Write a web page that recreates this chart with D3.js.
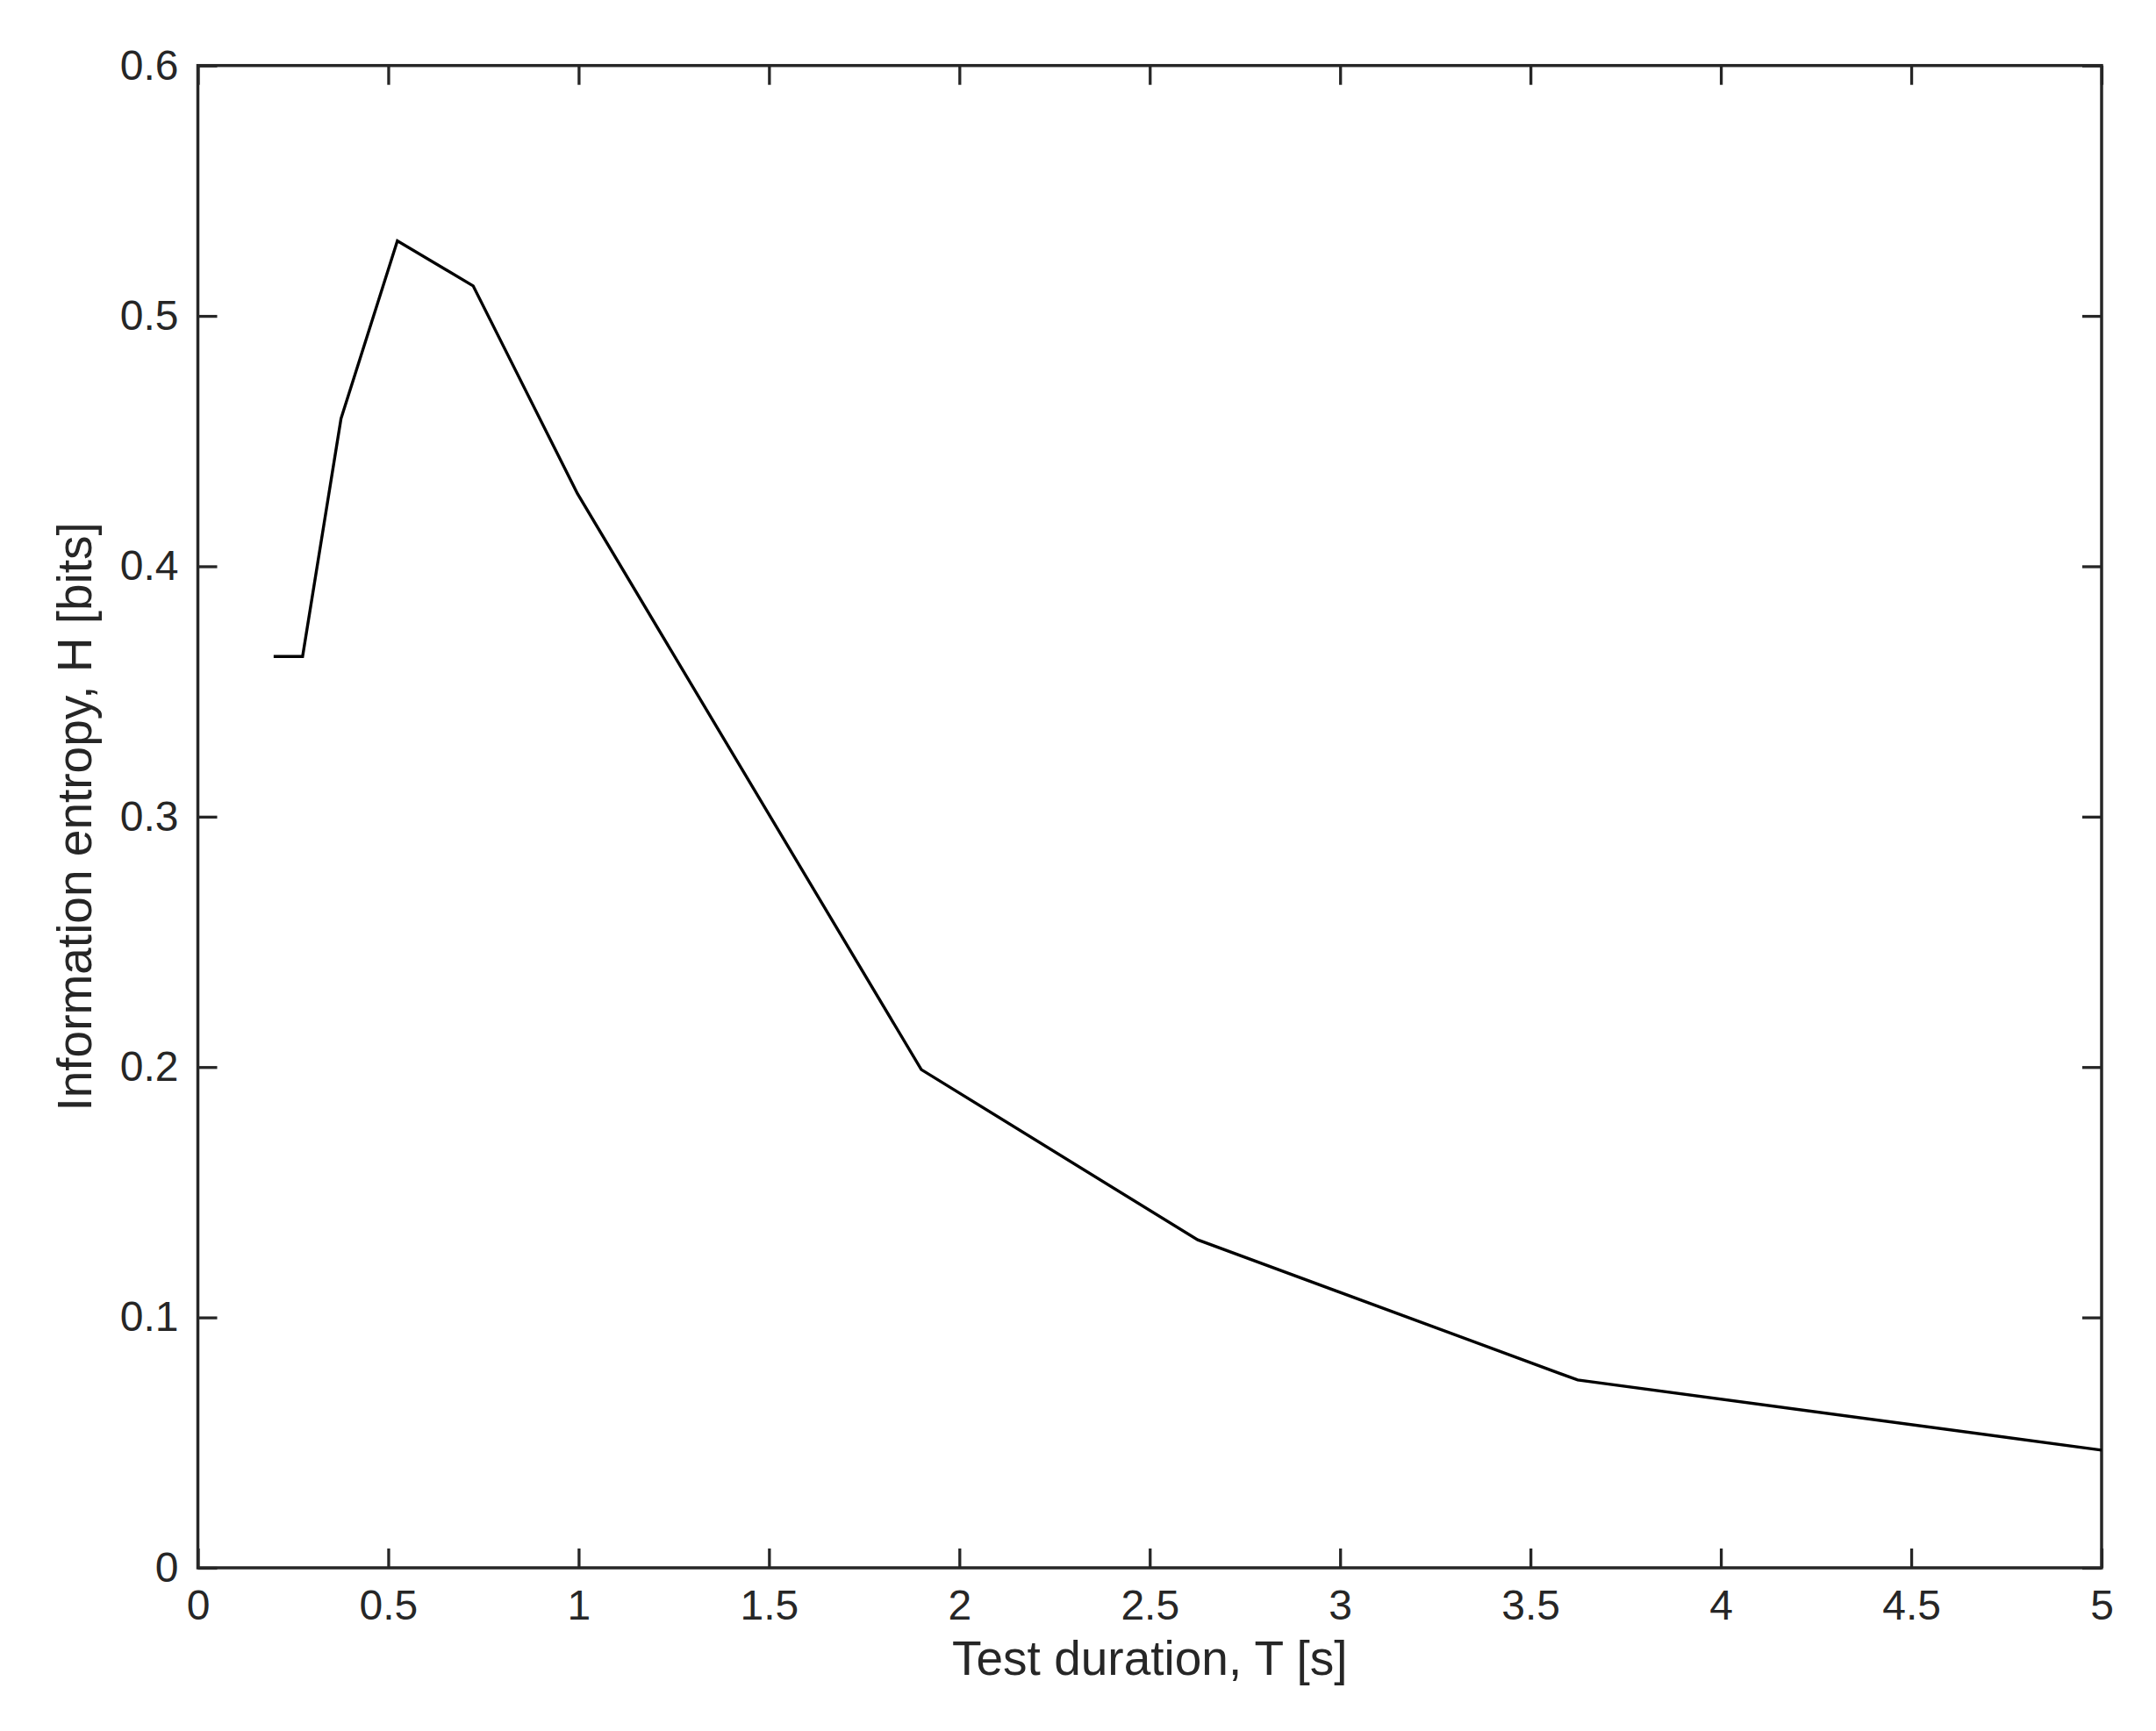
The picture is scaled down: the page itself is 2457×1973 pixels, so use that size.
<!DOCTYPE html>
<html>
<head>
<meta charset="utf-8">
<script src="https://cdn.jsdelivr.net/npm/d3@7"></script>
<style>
  html, body { margin: 0; padding: 0; background: #ffffff; }
  svg { display: block; }
</style>
</head>
<body>
<script>
// ---- data ----
const durationT = [0.199, 0.275, 0.376, 0.524, 0.723, 0.997, 1.900, 2.626, 3.624, 5.0];
const entropyH  = [0.364, 0.364, 0.459, 0.530, 0.512, 0.429, 0.199, 0.131, 0.075, 0.047];
const xTicks = [0, 0.5, 1, 1.5, 2, 2.5, 3, 3.5, 4, 4.5, 5];
const yTicks = [0, 0.1, 0.2, 0.3, 0.4, 0.5, 0.6];
const xLabel = "Test duration, T [s]";
const yLabel = "Information entropy, H [bits]";

(function () {
  // ---- layout ----
  const W = 2457, H = 1973;
  const mLeft = 225.5, mRight = 2395, mTop = 74.7, mBottom = 1787;
  const axisColor = "#262626";
  const font = "'Liberation Sans', Arial, Helvetica, sans-serif";

  const svg = d3.select("body").append("svg")
    .attr("width", W).attr("height", H)
    .attr("viewBox", `0 0 ${W} ${H}`);

  const x = d3.scaleLinear().domain([0, 5]).range([mLeft, mRight]);
  const y = d3.scaleLinear().domain([0, 0.6]).range([mBottom, mTop]);

  const fmt = d => d3.format("~g")(d);

  function styleAxis(g) {
    g.select(".domain").remove();
    g.selectAll(".tick line").attr("stroke", axisColor).attr("stroke-width", 3.3);
    g.selectAll(".tick text").attr("fill", axisColor)
      .style("font-family", font).style("font-size", "48px");
  }

  svg.append("g").attr("transform", `translate(0,${mBottom})`)
    .call(d3.axisBottom(x).tickValues(xTicks).tickFormat(fmt).tickSize(-22).tickSizeOuter(0).tickPadding(25))
    .call(styleAxis);
  svg.append("g").attr("transform", `translate(0,${mTop})`)
    .call(d3.axisTop(x).tickValues(xTicks).tickFormat("").tickSize(-22).tickSizeOuter(0))
    .call(styleAxis);
  svg.append("g").attr("transform", `translate(${mLeft},0)`)
    .call(d3.axisLeft(y).tickValues(yTicks).tickFormat(fmt).tickSize(-22).tickSizeOuter(0).tickPadding(22))
    .call(styleAxis);
  svg.append("g").attr("transform", `translate(${mRight},0)`)
    .call(d3.axisRight(y).tickValues(yTicks).tickFormat("").tickSize(-22).tickSizeOuter(0))
    .call(styleAxis);

  svg.append("rect")
    .attr("x", mLeft).attr("y", mTop)
    .attr("width", mRight - mLeft).attr("height", mBottom - mTop)
    .attr("fill", "none").attr("stroke", axisColor).attr("stroke-width", 3.5);

  const pts = durationT.map((t, i) => [t, entropyH[i]]);
  svg.append("path")
    .datum(pts)
    .attr("fill", "none")
    .attr("stroke", "#000000")
    .attr("stroke-width", 3.4)
    .attr("stroke-linejoin", "miter")
    .attr("d", d3.line().x(d => x(d[0])).y(d => y(d[1])));

  svg.append("text")
    .attr("x", (mLeft + mRight) / 2).attr("y", 1909)
    .attr("text-anchor", "middle")
    .attr("fill", axisColor)
    .style("font-family", font).style("font-size", "55px")
    .text(xLabel);

  svg.append("text")
    .attr("transform", `translate(104,${(mTop + mBottom) / 2}) rotate(-90)`)
    .attr("text-anchor", "middle")
    .attr("fill", axisColor)
    .style("font-family", font).style("font-size", "55px")
    .text(yLabel);
})();
</script>
</body>
</html>
